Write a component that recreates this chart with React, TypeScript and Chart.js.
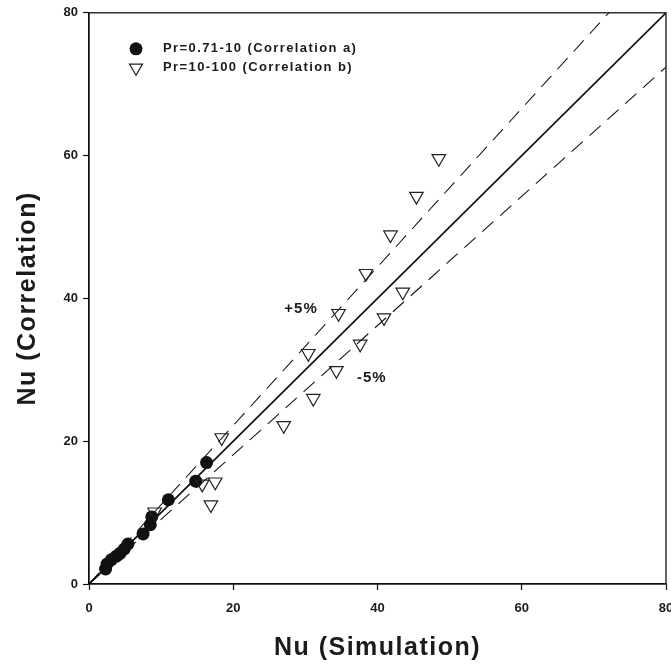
import React, { useEffect, useRef } from "react";
import { Chart, registerables } from "chart.js";

Chart.register(...registerables);

// Pr = 0.71-10 (Correlation a): [Nu simulation, Nu correlation]
const circleX = [2.3, 2.5, 3.1, 3.8, 4.3, 4.9, 5.4, 7.5, 8.5, 8.7, 11.0, 14.8, 16.3];
const circleY = [2.1, 2.8, 3.4, 3.9, 4.3, 4.9, 5.6, 7.0, 8.3, 9.4, 11.8, 14.4, 17.0];

// Pr = 10-100 (Correlation b)
const triX = [9.1, 15.7, 17.5, 16.9, 18.4, 27.0, 31.1, 34.3, 37.6, 30.4, 40.9, 34.6, 43.5, 38.4, 41.8, 45.4, 48.5];
const triY = [10.1, 14.0, 14.3, 11.1, 20.5, 22.2, 26.0, 29.9, 33.6, 32.3, 37.3, 37.9, 40.9, 43.5, 48.9, 54.3, 59.6];

const legendLabels = ["Pr=0.71-10 (Correlation a)", "Pr=10-100 (Correlation b)"];
const xTitle = "Nu (Simulation)";
const yTitle = "Nu (Correlation)";
const axisMin = 0;
const axisMax = 80;
const tickStep = 20;
const upperSlope = 1.11;
const lowerSlope = 0.905;
const bandLabels = ["+5%", "-5%"];
const bandLabelX = [29.4, 39.2];
const bandLabelY = [38.5, 28.9];

const FONT = "'Liberation Sans', Arial, Helvetica, sans-serif";
const INK = "#1b1b1b";

const pts = (xs: number[], ys: number[]) => xs.map((x, i) => ({ x, y: ys[i] }));

const decorPlugin = {
  id: "decor",
  afterDraw(chart: any) {
    const { ctx, chartArea: a, scales } = chart;
    const xs = scales.x;
    const ys = scales.y;
    ctx.save();
    // frame
    ctx.strokeStyle = "#111";
    ctx.lineWidth = 1.3;
    ctx.strokeRect(a.left, a.top, a.right - a.left, a.bottom - a.top);

    // band labels
    ctx.fillStyle = INK;
    ctx.font = `bold 15px ${FONT}`;
    ctx.textAlign = "center";
    ctx.textBaseline = "middle";
    (ctx as any).letterSpacing = "1px";
    bandLabels.forEach((t, i) => {
      ctx.fillText(t, xs.getPixelForValue(bandLabelX[i]), ys.getPixelForValue(bandLabelY[i]));
    });

    // legend
    const lx = a.left + 47;
    const ly1 = a.top + 36;
    const ly2 = a.top + 55;
    ctx.beginPath();
    ctx.arc(lx, ly1, 6.5, 0, Math.PI * 2);
    ctx.fillStyle = "#111";
    ctx.fill();
    const r = 7.5;
    ctx.beginPath();
    ctx.moveTo(lx, ly2 + r);
    ctx.lineTo(lx - r * 0.866, ly2 - r * 0.5);
    ctx.lineTo(lx + r * 0.866, ly2 - r * 0.5);
    ctx.closePath();
    ctx.strokeStyle = "#222";
    ctx.lineWidth = 1.2;
    ctx.stroke();
    ctx.fillStyle = INK;
    ctx.font = `bold 13px ${FONT}`;
    ctx.textAlign = "left";
    (ctx as any).letterSpacing = "1.4px";
    ctx.fillText(legendLabels[0], lx + 27, ly1);
    ctx.fillText(legendLabels[1], lx + 27, ly2);

    // axis titles
    ctx.font = `bold 25px ${FONT}`;
    (ctx as any).letterSpacing = "1.5px";
    ctx.textAlign = "center";
    ctx.fillText(xTitle, (a.left + a.right) / 2, 648);
    ctx.translate(28, (a.top + a.bottom) / 2);
    ctx.rotate(-Math.PI / 2);
    ctx.fillText(yTitle, 0, 0);
    ctx.restore();
  },
};

export default function App() {
  const ref = useRef<HTMLCanvasElement | null>(null);

  useEffect(() => {
    if (!ref.current) return;
    const line = (slope: number, dash: number[], w: number) => ({
      type: "line" as const,
      data: [
        { x: axisMin, y: axisMin * slope },
        { x: axisMax, y: axisMax * slope },
      ],
      borderColor: "#111",
      borderWidth: w,
      borderDash: dash,
      pointRadius: 0,
      fill: false,
    });
    const chart = new Chart(ref.current, {
      type: "scatter",
      data: {
        datasets: [
          {
            type: "scatter",
            label: legendLabels[1],
            data: pts(triX, triY),
            pointStyle: "triangle",
            rotation: 180,
            radius: 7.8,
            backgroundColor: "rgba(0,0,0,0)",
            borderColor: "#222",
            borderWidth: 1.2,
          } as any,
          {
            type: "scatter",
            label: legendLabels[0],
            data: pts(circleX, circleY),
            pointStyle: "circle",
            radius: 6.5,
            backgroundColor: "#111",
            borderColor: "#111",
            borderWidth: 0,
          } as any,
          line(1, [], 1.7),
          line(upperSlope, [15, 9], 1.1),
          line(lowerSlope, [15, 9], 1.1),
        ],
      },
      options: {
        responsive: false,
        animation: false,
        events: [],
        layout: { padding: { top: 8, right: 24, left: 0, bottom: 0 } },
        plugins: { legend: { display: false }, tooltip: { enabled: false } },
        scales: {
          x: {
            type: "linear",
            min: axisMin,
            max: axisMax,
            afterFit: (s: any) => {
              s.height = 81;
            },
            ticks: {
              stepSize: tickStep,
              padding: 11,
              color: INK,
              font: { family: FONT, size: 13, weight: "bold" },
            },
            grid: { drawOnChartArea: false, drawTicks: true, tickLength: 6, tickColor: "#111", tickWidth: 1.2 },
            border: { display: true, color: "#111", width: 1.3 },
          },
          y: {
            type: "linear",
            min: axisMin,
            max: axisMax,
            afterFit: (s: any) => {
              s.width = 89;
            },
            ticks: {
              stepSize: tickStep,
              padding: 5,
              color: INK,
              font: { family: FONT, size: 13, weight: "bold" },
            },
            grid: { drawOnChartArea: false, drawTicks: true, tickLength: 6, tickColor: "#111", tickWidth: 1.2 },
            border: { display: true, color: "#111", width: 1.3 },
          },
        },
      } as any,
      plugins: [decorPlugin],
    });
    return () => chart.destroy();
  }, []);

  return (
    <div style={{ position: "fixed", left: 0, top: 0, width: 671, height: 665, overflow: "hidden", background: "#fff" }}>
      <canvas ref={ref} width={690} height={665} style={{ display: "block" }} />
    </div>
  );
}
